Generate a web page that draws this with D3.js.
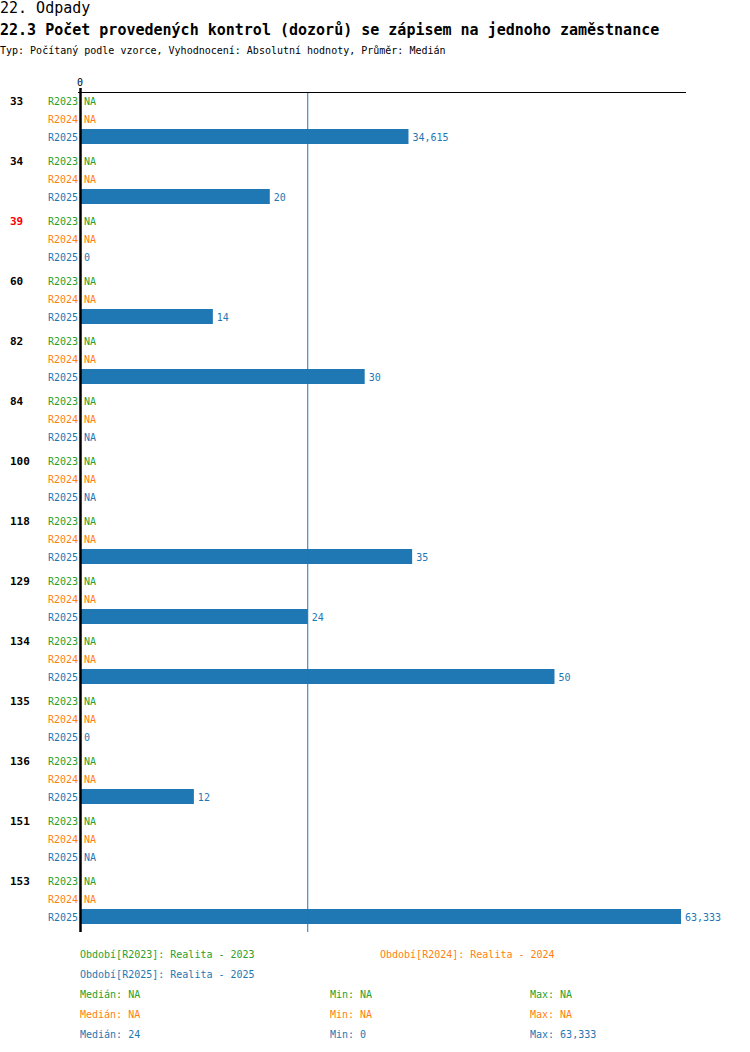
<!DOCTYPE html>
<html lang="cs">
  <head>
    <meta charset="UTF-8" />
    <title>22.3 Počet provedených kontrol</title>
    <style>
      body { margin: 0; background: #fff; }
      text { font-family: "DejaVu Sans Mono", monospace; }
    </style>
  </head>
  <body>
    <svg id="chart" width="750" height="1052"></svg>
    <script src="https://cdn.jsdelivr.net/npm/d3@7"></script>
    <script>
      // data
      var groups = ['33', '34', '39', '60', '82', '84', '100', '118', '129', '134', '135', '136', '151', '153'];
      var highlighted = ['39'];
      var series = ['R2023', 'R2024', 'R2025'];
      var seriesColors = ['#2ca02c', '#ff7f0e', '#1f77b4'];
      var values2023 = [null, null, null, null, null, null, null, null, null, null, null, null, null, null];
      var values2024 = [null, null, null, null, null, null, null, null, null, null, null, null, null, null];
      var values2025 = [34.615, 20, 0, 14, 30, null, null, 35, 24, 50, 0, 12, null, 63.333];
      var legendLabels = ['Období[R2023]: Realita - 2023', 'Období[R2024]: Realita - 2024', 'Období[R2025]: Realita - 2025'];

      var plotTop = 92, plotBottom = 932;
      var x0 = 80, xMax = 681;

      var cz = d3.formatLocale({ decimal: ',', thousands: ' ', grouping: [3], currency: ['', ' Kč'] });
      var fmt = cz.format('.3~f');
      var fmtv = v => v == null ? 'NA' : fmt(v);

      var allSeries = [values2023, values2024, values2025];
      var maxValue = d3.max(allSeries.flat());

      var x = d3.scaleLinear().domain([0, maxValue]).range([x0, xMax]);
      var yGroup = d3.scaleBand().domain(groups).range([plotTop, plotBottom]);
      var ySeries = d3.scaleBand().domain(series).range([0, 54]);
      var color = d3.scaleOrdinal().domain(series).range(seriesColors);

      var svg = d3.select('#chart');

      // titles
      svg.append('text').attr('x', 0).attr('y', 13).style('font-size', '15px').text('22. Odpady');
      svg.append('text').attr('x', 0).attr('y', 35).style('font-size', '15px').style('font-weight', 'bold')
        .text('22.3 Počet provedených kontrol (dozorů) se zápisem na jednoho zaměstnance');
      svg.append('text').attr('x', 0).attr('y', 54).style('font-size', '10px')
        .text('Typ: Počítaný podle vzorce, Vyhodnocení: Absolutní hodnoty, Průměr: Medián');

      // rows
      var rows = [];
      groups.forEach((g, i) => {
        series.forEach((s, j) => {
          rows.push({ group: g, series: s, value: allSeries[j][i] });
        });
      });
      var cy = d => yGroup(d.group) + ySeries(d.series) + ySeries.bandwidth() / 2;

      // group labels
      svg.append('g').selectAll('text').data(groups).join('text')
        .attr('x', 10)
        .attr('y', d => yGroup(d) + ySeries.bandwidth() / 2)
        .attr('dy', '0.35em')
        .style('font-size', '11px')
        .style('font-weight', 'bold')
        .attr('fill', d => highlighted.includes(d) ? '#ff0000' : '#000')
        .text(d => d);

      // series labels
      svg.append('g').selectAll('text').data(rows).join('text')
        .attr('x', x0 - 2)
        .attr('y', cy)
        .attr('dy', '0.35em')
        .attr('text-anchor', 'end')
        .style('font-size', '10px')
        .attr('fill', d => color(d.series))
        .text(d => d.series);

      // bars
      svg.append('g').selectAll('rect').data(rows.filter(d => d.value != null && d.value > 0)).join('rect')
        .attr('x', x(0))
        .attr('y', d => cy(d) - 8)
        .attr('width', d => x(d.value) - x(0))
        .attr('height', 15)
        .attr('fill', d => color(d.series));

      // value labels
      svg.append('g').selectAll('text').data(rows).join('text')
        .attr('x', d => (d.value ? x(d.value) : x(0)) + 4)
        .attr('y', cy)
        .attr('dy', '0.35em')
        .style('font-size', '10px')
        .attr('fill', d => color(d.series))
        .text(d => fmtv(d.value));

      // median line
      var median = d3.median(values2025.filter(v => v != null));
      svg.append('line')
        .attr('x1', x(median)).attr('x2', x(median))
        .attr('y1', plotTop).attr('y2', plotBottom)
        .attr('stroke', '#1f77b4').attr('stroke-width', 1);

      // axes
      svg.append('line')
        .attr('x1', x0 - 2).attr('x2', 686)
        .attr('y1', plotTop + 0.5).attr('y2', plotTop + 0.5)
        .attr('stroke', '#000');
      svg.append('line')
        .attr('x1', x0 + 0.5).attr('x2', x0 + 0.5)
        .attr('y1', plotTop - 4).attr('y2', plotBottom)
        .attr('stroke', '#000').attr('stroke-width', 2.5);
      svg.append('text').attr('x', x(0)).attr('y', 82).attr('dy', '0.35em')
        .attr('text-anchor', 'middle').style('font-size', '10px').text(fmt(0));

      // legend
      var legendPos = [[80, 954], [380, 954], [80, 974]];
      svg.append('g').selectAll('text').data(legendLabels).join('text')
        .attr('x', (d, i) => legendPos[i][0])
        .attr('y', (d, i) => legendPos[i][1])
        .attr('dy', '0.35em')
        .style('font-size', '10px')
        .attr('fill', (d, i) => seriesColors[i])
        .text(d => d);

      // statistics
      var stats = allSeries.map(vals => {
        var v = vals.filter(d => d != null);
        return v.length ? [d3.median(v), d3.min(v), d3.max(v)] : [null, null, null];
      });
      var statNames = ['Medián: ', 'Min: ', 'Max: '];
      var statX = [80, 330, 530];
      stats.forEach((s, i) => {
        s.forEach((v, k) => {
          svg.append('text')
            .attr('x', statX[k])
            .attr('y', 994 + i * 20)
            .attr('dy', '0.35em')
            .style('font-size', '10px')
            .attr('fill', seriesColors[i])
            .text(statNames[k] + fmtv(v));
        });
      });
    </script>
  </body>
</html>
